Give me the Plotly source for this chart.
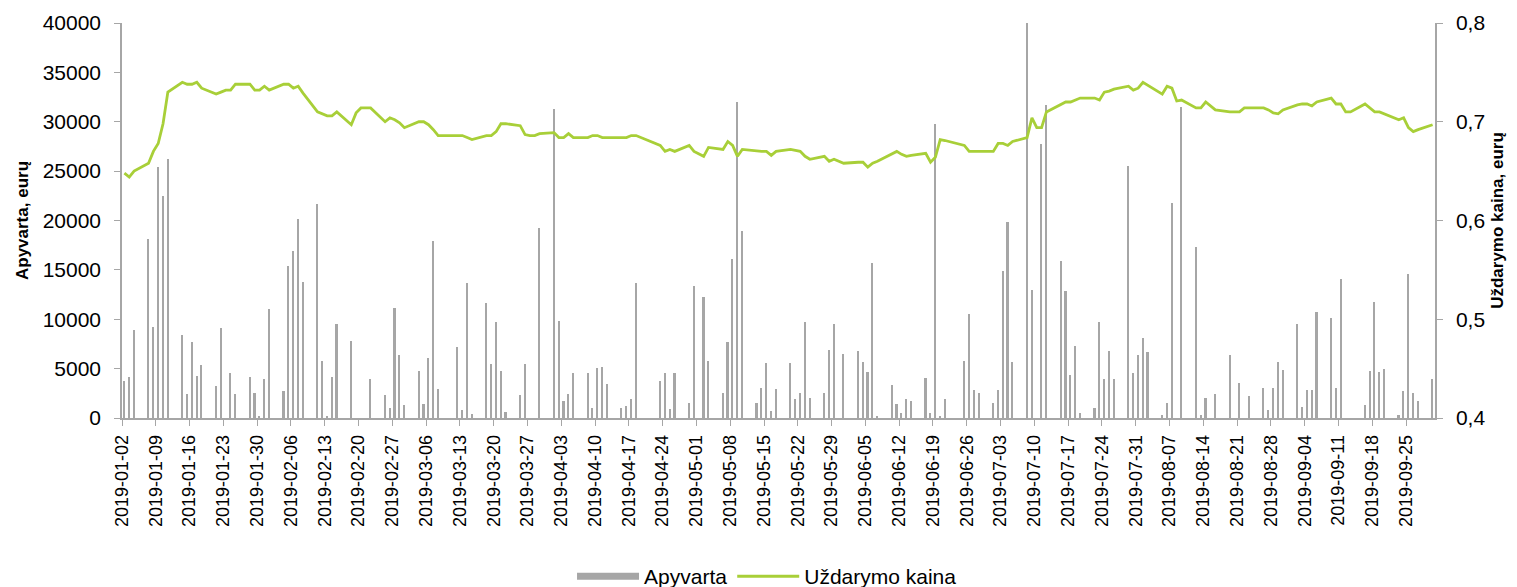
import pandas as pd
import plotly.graph_objects as go

# Exchange holidays (no trading) in the period
holidays = ['2019-01-01', '2019-03-11', '2019-04-19', '2019-04-22',
            '2019-05-01', '2019-06-24', '2019-08-15']
trade_dates = pd.bdate_range('2019-01-02', '2019-09-30', freq='C', holidays=holidays)

# Daily turnover (EUR), one list per month, one value per trading day
turnover_jan = [3700, 4200, 8900, 18100, 9200, 25400, 22500, 26200, 8400, 2400, 7700,
                4300, 5400, 3200, 9100, 0, 4600, 2400, 4200, 2500, 200, 4000]
turnover_feb = [11000, 2700, 15400, 16900, 20200, 13800, 21700, 5800, 150, 4200, 9500,
                7800, 0, 0, 0, 3900, 2300, 1000, 11100, 6400]
turnover_mar = [1300, 4800, 1400, 6100, 17900, 2900, 7200, 800, 13700, 400, 11600,
                5500, 9700, 4800, 600, 2300, 5500, 0, 0, 19200]
turnover_apr = [31300, 9800, 1700, 2400, 4600, 4600, 1000, 5100, 5200, 3400, 1000,
                1200, 1900, 13700, 3700, 4600, 900, 4600, 1500, 13400]
turnover_may = [12300, 5800, 2500, 7700, 16100, 32000, 18900, 1500, 3000, 5600, 700,
                2900, 5600, 1900, 2500, 9700, 2000, 2500, 6900, 9500, 0, 6500]
turnover_jun = [6800, 5700, 4700, 15700, 200, 3300, 1400, 500, 1900, 1700, 4100,
                500, 29800, 200, 1900, 5800, 10500, 2800, 2500]
turnover_jul = [1500, 2800, 14900, 19800, 5700, 40000, 13000, 0, 27700, 31700, 15900,
                12900, 4400, 7300, 500, 1000, 9700, 4000, 6800, 3900, 25500, 4600, 6400]
turnover_aug = [8100, 6700, 300, 1500, 21800, 0, 31500, 17300, 300, 2000, 2400,
                6400, 0, 3500, 0, 2200, 3000, 800, 3000, 5700, 4900]
turnover_sep = [9500, 1100, 2800, 2800, 10700, 10100, 3000, 14100, 0, 0, 1300,
                4800, 11700, 4700, 5000, 300, 2700, 14600, 2500, 1700, 4000]

# Closing price (EUR)
close_jan = [0.648, 0.644, 0.650, 0.658, 0.670, 0.678, 0.698, 0.730, 0.740, 0.738, 0.738,
             0.740, 0.734, 0.728, 0.730, 0.732, 0.732, 0.738, 0.738, 0.732, 0.732, 0.736]
close_feb = [0.732, 0.738, 0.738, 0.734, 0.736, 0.729, 0.710, 0.708, 0.706, 0.706, 0.710,
             0.697, 0.709, 0.714, 0.714, 0.714, 0.700, 0.704, 0.702, 0.699]
close_mar = [0.694, 0.700, 0.700, 0.697, 0.692, 0.686, 0.686, 0.686, 0.684, 0.682, 0.686,
             0.686, 0.690, 0.698, 0.698, 0.696, 0.687, 0.686, 0.686, 0.688]
close_apr = [0.689, 0.684, 0.684, 0.688, 0.684, 0.684, 0.686, 0.686, 0.684, 0.684, 0.684,
             0.684, 0.686, 0.686, 0.676, 0.670, 0.672, 0.670, 0.676, 0.670]
close_may = [0.665, 0.674, 0.672, 0.680, 0.676, 0.665, 0.672, 0.670, 0.670, 0.670, 0.666,
             0.670, 0.672, 0.671, 0.670, 0.665, 0.662, 0.665, 0.660, 0.662, 0.660, 0.658]
close_jun = [0.659, 0.659, 0.654, 0.658, 0.660, 0.668, 0.670, 0.667, 0.665, 0.666, 0.668,
             0.659, 0.664, 0.682, 0.681, 0.676, 0.670, 0.670, 0.670]
close_jul = [0.670, 0.678, 0.678, 0.676, 0.680, 0.684, 0.704, 0.694, 0.694, 0.710, 0.718,
             0.720, 0.720, 0.722, 0.724, 0.724, 0.722, 0.730, 0.731, 0.733, 0.736, 0.732, 0.734]
close_aug = [0.740, 0.737, 0.728, 0.736, 0.734, 0.721, 0.722, 0.714, 0.714, 0.720, 0.712,
             0.710, 0.710, 0.710, 0.714, 0.714, 0.714, 0.712, 0.709, 0.708, 0.712]
close_sep = [0.717, 0.718, 0.718, 0.716, 0.720, 0.724, 0.718, 0.718, 0.710, 0.710, 0.718,
             0.714, 0.710, 0.710, 0.708, 0.702, 0.704, 0.694, 0.690, 0.692, 0.697]

turnover = (turnover_jan + turnover_feb + turnover_mar + turnover_apr + turnover_may
            + turnover_jun + turnover_jul + turnover_aug + turnover_sep)
close_price = (close_jan + close_feb + close_mar + close_apr + close_may
               + close_jun + close_jul + close_aug + close_sep)

DAY_MS = 86400000
bar_col = '#A6A6A6'
line_col = '#A8CF38'
axis_col = '#A6A6A6'
font_family = 'Liberation Sans, Arial, sans-serif'

fig = go.Figure()

# Turnover bars (legend entry drawn by a dummy trace below, to get a wide swatch)
fig.add_trace(go.Bar(
    x=trade_dates,
    y=turnover,
    name='Apyvarta',
    marker_color=bar_col,
    marker_line_width=0,
    width=0.34 * DAY_MS,
    xperiod=DAY_MS,
    xperiodalignment='middle',
    showlegend=False,
))

# legend swatch for the bars
fig.add_trace(go.Scatter(
    x=[None], y=[None],
    name='Apyvarta',
    mode='lines',
    line=dict(color=bar_col, width=7),
))

# Closing price line on the secondary axis
fig.add_trace(go.Scatter(
    x=trade_dates,
    y=close_price,
    name='Uždarymo kaina',
    mode='lines',
    line=dict(color=line_col, width=2.8),
    xperiod=DAY_MS,
    xperiodalignment='middle',
    yaxis='y2',
))

# the page body has an 8px margin, so the figure is a bit smaller than the window
fig.update_layout(
    width=1509,
    height=579,
    margin=dict(l=114, r=82, t=15, b=169),
    paper_bgcolor='white',
    plot_bgcolor='white',
    font=dict(family=font_family, size=17, color='#000000'),
    separators=',.',
    bargap=0,
    showlegend=True,
    legend=dict(orientation='h', xref='container', yref='container',
                x=0.503, xanchor='center', y=0.018, yanchor='middle',
                font=dict(size=21), traceorder='normal', tracegroupgap=0,
                itemwidth=62),
    xaxis=dict(
        type='date',
        range=['2019-01-02', '2019-10-01'],
        tick0='2019-01-02',
        dtick=7 * DAY_MS,
        tickformat='%Y-%m-%d',
        tickangle=-90,
        ticks='outside',
        ticklen=6,
        tickcolor=axis_col,
        showline=True,
        linecolor=axis_col,
        linewidth=1.5,
        showgrid=False,
        zeroline=False,
        automargin=False,
        ticklabelstandoff=2,
        tickfont=dict(size=18),
    ),
    yaxis=dict(
        range=[0, 40000],
        dtick=5000,
        tickformat='d',
        ticks='outside',
        ticklen=6,
        tickcolor=axis_col,
        showline=True,
        linecolor=axis_col,
        linewidth=1.5,
        showgrid=False,
        zeroline=False,
        automargin=False,
        ticklabelstandoff=9,
        tickfont=dict(size=21),
        title=dict(text='<b>Apyvarta, eurų</b>', font=dict(size=17), standoff=10),
    ),
    yaxis2=dict(
        range=[0.4, 0.8],
        dtick=0.1,
        tickformat='.1f',
        overlaying='y',
        side='right',
        ticks='outside',
        ticklen=6,
        tickcolor=axis_col,
        showline=True,
        linecolor=axis_col,
        linewidth=1.5,
        showgrid=False,
        zeroline=False,
        automargin=False,
        ticklabelstandoff=9,
        tickfont=dict(size=21),
        title=dict(text='<b>Uždarymo kaina, eurų</b>', font=dict(size=17), standoff=7),
    ),
)

fig.write_html('out.html')
